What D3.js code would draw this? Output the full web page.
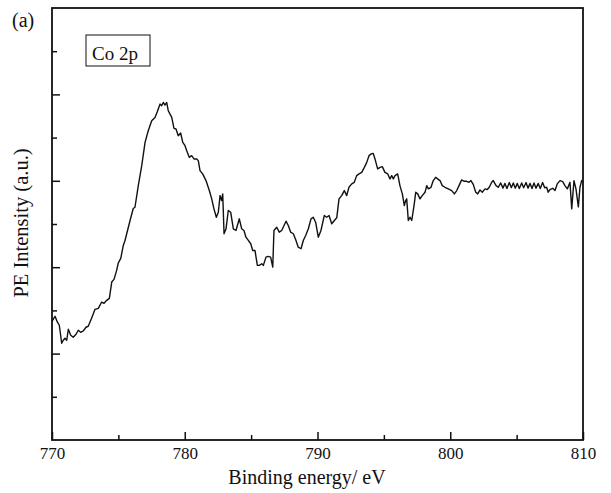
<!DOCTYPE html>
<html>
<head>
<meta charset="utf-8">
<script src="https://cdn.jsdelivr.net/npm/d3@7/dist/d3.min.js"></script>
<style>
  body { margin: 0; background: #fff; }
  svg { display: block; }
  text { font-family: "Liberation Serif", "Times New Roman", serif; fill: #111; }
</style>
</head>
<body>
<svg id="chart" width="611" height="493"></svg>
<script>
// Co 2p XPS spectrum: [binding energy (eV), intensity (a.u.)]
const spectrum = [
  [770.00,2.748],[770.23,2.864],[770.40,2.732],[770.55,2.656],[770.73,2.240],[770.85,2.309],
  [770.98,2.356],[771.11,2.309],[771.23,2.564],[771.41,2.425],[771.60,2.379],[771.81,2.448],
  [771.98,2.540],[772.16,2.494],[772.36,2.524],[772.56,2.610],[772.73,2.633],[772.92,2.771],
  [773.07,2.887],[773.24,3.025],[773.49,3.048],[773.74,3.194],[773.92,3.164],[774.12,3.233],
  [774.32,3.279],[774.50,3.656],[774.67,3.718],[774.87,3.926],[774.99,4.095],[775.18,4.203],
  [775.37,4.503],[775.50,4.619],[775.88,5.081],[776.12,5.358],[776.25,5.388],[776.50,5.889],
  [776.76,6.351],[777.01,6.889],[777.25,7.159],[777.51,7.390],[777.76,7.467],[777.93,7.598],
  [778.14,7.776],[778.26,7.737],[778.38,7.813],[778.51,7.753],[778.64,7.813],[778.76,7.621],
  [779.02,7.467],[779.19,7.212],[779.34,7.199],[779.51,7.044],[779.69,7.106],[779.85,6.889],
  [780.02,6.813],[780.15,6.697],[780.34,6.543],[780.52,6.582],[780.70,6.506],[780.90,6.506],
  [781.02,6.467],[781.15,6.236],[781.35,6.159],[781.60,6.005],[781.85,5.774],[782.03,5.582],
  [782.20,5.351],[782.38,5.157],[782.53,5.273],[782.66,5.658],[782.78,5.543],[782.86,5.697],
  [782.96,4.774],[783.11,4.889],[783.28,5.312],[783.46,5.273],[783.66,4.889],[783.86,4.850],
  [784.11,5.120],[784.29,4.889],[784.46,4.850],[784.61,4.695],[784.79,4.619],[784.97,4.543],
  [785.12,4.388],[785.29,4.388],[785.47,4.042],[785.62,4.042],[785.80,4.081],[785.92,4.042],
  [786.12,4.233],[786.29,4.249],[786.47,4.233],[786.63,4.002],[786.72,4.850],[786.93,4.926],
  [787.12,4.811],[787.30,4.850],[787.48,4.965],[787.63,5.065],[787.80,4.965],[787.98,4.811],
  [788.18,4.774],[788.38,4.619],[788.55,4.464],[788.76,4.427],[788.93,4.619],[789.11,4.734],
  [789.31,4.889],[789.51,5.120],[789.68,5.157],[789.86,5.042],[790.06,4.695],[790.26,4.850],
  [790.51,5.196],[790.69,5.157],[790.87,5.196],[791.07,5.005],[791.27,5.081],[791.45,5.143],
  [791.62,5.582],[791.82,5.658],[792.02,5.774],[792.20,5.658],[792.37,5.850],[792.58,5.928],
  [792.77,5.965],[792.95,6.120],[793.13,6.159],[793.33,6.196],[793.53,6.312],[793.71,6.427],
  [793.88,6.582],[794.03,6.621],[794.20,6.635],[794.33,6.506],[794.53,6.275],[794.71,6.312],
  [794.88,6.328],[795.08,6.196],[795.29,6.159],[795.46,6.044],[795.59,6.120],[795.71,6.044],
  [795.84,6.120],[796.04,6.159],[796.21,5.889],[796.39,5.697],[796.54,5.427],[796.64,5.543],
  [796.72,5.582],[796.84,5.081],[796.97,5.157],[797.10,5.081],[797.29,5.467],[797.40,5.736],
  [797.55,5.697],[797.72,5.582],[797.89,5.658],[798.10,5.736],[798.23,5.889],[798.35,5.813],
  [798.55,5.850],[798.72,6.005],[798.90,6.081],[799.05,6.044],[799.23,6.005],[799.40,5.889],
  [799.60,5.850],[799.85,5.813],[800.11,5.774],[800.31,5.697],[800.49,5.774],[800.66,5.889],
  [800.86,6.021],[801.06,5.988],[801.24,5.988],[801.41,5.965],[801.56,6.005],[801.74,5.912],
  [801.92,5.736],[802.07,5.697],[802.24,5.790],[802.41,5.736],[802.62,5.813],[802.79,5.797],
  [802.94,5.850],[803.12,5.965],[803.24,6.005],[803.45,5.889],[803.62,5.850],
  [803.80,5.950],[803.97,5.830],[804.12,5.940],[804.27,5.820],[804.45,5.960],[804.60,5.840],
  [804.75,5.950],[804.90,5.830],[805.05,5.940],[805.20,5.820],[805.38,5.950],[805.53,5.840],
  [805.71,5.960],[805.86,5.830],[806.01,5.940],[806.16,5.820],[806.31,5.950],[806.46,5.830],
  [806.63,5.940],[806.78,5.820],[806.96,5.960],[807.11,5.840],
  [807.26,5.850],[807.38,5.736],[807.51,5.797],[807.72,5.827],[807.89,5.774],[808.06,5.928],
  [808.27,6.005],[808.47,5.982],[808.64,5.889],[808.82,5.813],[809.02,5.965],[809.15,5.351],
  [809.32,6.005],[809.47,5.813],[809.65,5.397],[809.77,5.850],[809.90,6.005],[810.00,5.965]
];

const xMajorTicks = [770, 780, 790, 800, 810];
const xMinorTicks = [775, 785, 795, 805];
const yMajorTicks = [2, 4, 6, 8];
const yMinorTicks = [1, 3, 5, 7, 9];

const xTitle = "Binding energy/ eV";
const yTitle = "PE Intensity (a.u.)";
const panelLabel = "(a)";
const legendLabel = "Co 2p";

const svg = d3.select("#chart");
const plot = { left: 52, right: 583, top: 8, bottom: 440 };

const x = d3.scaleLinear().domain([770, 810]).range([plot.left, plot.right]);
const y = d3.scaleLinear().domain([0, 10]).range([plot.bottom, plot.top]);

// inward ticks on bottom axis
const gxMajor = svg.append("g")
  .attr("transform", `translate(0,${plot.bottom})`)
  .call(d3.axisBottom(x).tickValues(xMajorTicks).tickSizeInner(-8).tickSizeOuter(0)
        .tickPadding(7).tickFormat(d3.format("d")));
const gxMinor = svg.append("g")
  .attr("transform", `translate(0,${plot.bottom})`)
  .call(d3.axisBottom(x).tickValues(xMinorTicks).tickSizeInner(-5).tickSizeOuter(0).tickFormat(""));

// inward ticks on left axis, no labels
const gyMajor = svg.append("g")
  .attr("transform", `translate(${plot.left},0)`)
  .call(d3.axisLeft(y).tickValues(yMajorTicks).tickSizeInner(-8).tickSizeOuter(0).tickFormat(""));
const gyMinor = svg.append("g")
  .attr("transform", `translate(${plot.left},0)`)
  .call(d3.axisLeft(y).tickValues(yMinorTicks).tickSizeInner(-5).tickSizeOuter(0).tickFormat(""));

[gxMajor, gxMinor, gyMajor, gyMinor].forEach(g => {
  g.select(".domain").remove();
  g.selectAll(".tick line").attr("stroke", "#111").attr("stroke-width", 1.5);
});
gxMajor.selectAll(".tick text")
  .attr("font-size", 17)
  .attr("font-family", "Liberation Serif, Times New Roman, serif")
  .attr("fill", "#111");

// spectrum line
const line = d3.line().x(d => x(d[0])).y(d => y(d[1]));
svg.append("path")
  .datum(spectrum)
  .attr("fill", "none")
  .attr("stroke", "#111")
  .attr("stroke-width", 1.4)
  .attr("stroke-linejoin", "round")
  .attr("d", line);

// frame
svg.append("rect")
  .attr("x", plot.left).attr("y", plot.top)
  .attr("width", plot.right - plot.left).attr("height", plot.bottom - plot.top)
  .attr("fill", "none").attr("stroke", "#111").attr("stroke-width", 1.8);

// axis titles
svg.append("text")
  .attr("x", 307).attr("y", 484)
  .attr("text-anchor", "middle").attr("font-size", 20)
  .text(xTitle);
svg.append("text")
  .attr("transform", "translate(28,223) rotate(-90)")
  .attr("text-anchor", "middle").attr("font-size", 20.5)
  .text(yTitle);

// panel label
svg.append("text")
  .attr("x", 12).attr("y", 27).attr("font-size", 20)
  .text(panelLabel);

// legend box
svg.append("rect")
  .attr("x", 86).attr("y", 35).attr("width", 64).attr("height", 31)
  .attr("fill", "none").attr("stroke", "#111").attr("stroke-width", 1);
svg.append("text")
  .attr("x", 92).attr("y", 59.5).attr("font-size", 19)
  .text(legendLabel);
</script>
</body>
</html>
